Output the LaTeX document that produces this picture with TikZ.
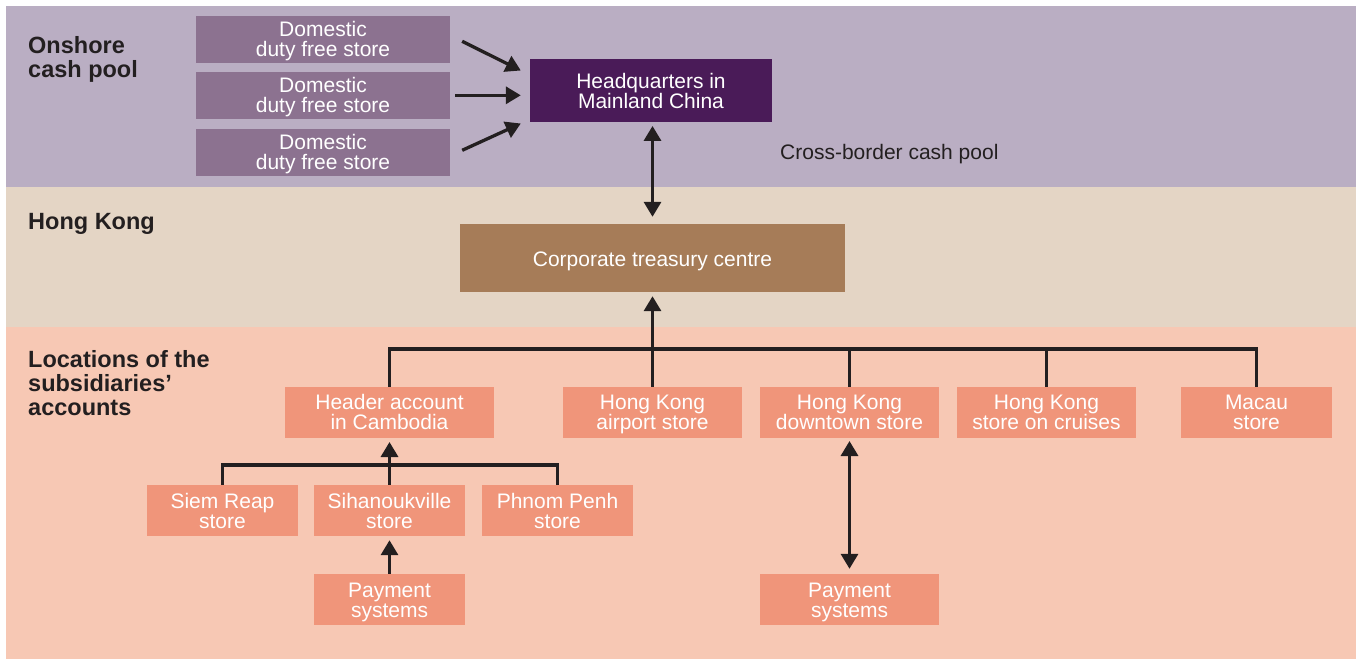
\documentclass[tikz,border=0pt]{standalone}
\usepackage{fontspec}
\setmainfont{Liberation Sans}
\usetikzlibrary{arrows.meta}
\definecolor{bandA}{HTML}{BAAEC3}
\definecolor{bandB}{HTML}{E4D5C5}
\definecolor{bandC}{HTML}{F7C8B4}
\definecolor{dstoreC}{HTML}{8C7290}
\definecolor{hqC}{HTML}{4A1B58}
\definecolor{ctcC}{HTML}{A67C58}
\definecolor{sboxC}{HTML}{F0957A}
\definecolor{inkC}{HTML}{231F20}
\newcommand\boxfont{\fontsize{21}{20}\selectfont}
\newcommand\labfont{\fontsize{23.5}{24}\selectfont\bfseries}
\newcommand\hstrut{\rule{0pt}{20pt}}
\newcommand\dstrut{\rule[-5pt]{0pt}{5pt}}
\newcommand\twolines[2]{\hstrut#1\\#2\dstrut}
\begin{document}
\begin{tikzpicture}[x=1pt,y=-1pt,
  basebox/.style={inner sep=0pt, align=center, text=white, font=\boxfont},
  dstore/.style={basebox, fill=dstoreC, minimum width=254pt, minimum height=46.5pt},
  hqbox/.style={basebox, fill=hqC, minimum width=242pt, minimum height=62.5pt},
  ctcbox/.style={basebox, fill=ctcC, minimum width=385pt, minimum height=68pt, text height=20pt, text depth=4pt},
  sbox/.style={basebox, fill=sboxC, minimum height=51pt},
  lab/.style={inner sep=0pt, anchor=base west, text=inkC, font=\labfont},
  conn/.style={draw=inkC, line width=3.3pt},
  arr/.style={conn, -{Triangle[length=15pt,width=17pt]}},
  darr/.style={conn, {Triangle[length=15pt,width=17pt]}-{Triangle[length=15pt,width=17pt]}}
]
\useasboundingbox (0,0) rectangle (1356,659);
\fill[bandA] (6,6) rectangle (1356,187);
\fill[bandB] (6,187) rectangle (1356,327);
\fill[bandC] (6,327) rectangle (1356,659);

% region labels
\node[lab] (l1) at (28,53) {Onshore};
\node[lab] (l2) at (28,77) {cash pool};
\node[lab] (l3) at (28,229) {Hong Kong};
\node[lab] (l4) at (28,367) {Locations of the};
\node[lab] (l5) at (28,391) {subsidiaries’};
\node[lab] (l6) at (28,415) {accounts};
\node[inner sep=0pt, anchor=west, text=inkC, font=\boxfont] (cb) at (780,154) {Cross-border cash pool};

% boxes
\node[dstore] (d1) at (323,39.3) {\twolines{Domestic}{duty free store}};
\node[dstore] (d2) at (323,95.3) {\twolines{Domestic}{duty free store}};
\node[dstore] (d3) at (323,152.3) {\twolines{Domestic}{duty free store}};
\node[hqbox] (hq) at (651,90.5) {\twolines{Headquarters in}{Mainland China}};
\node[ctcbox] (ctc) at (652.5,258) {Corporate treasury centre};

\node[sbox, minimum width=209pt] (hdr) at (389.5,412.3) {\twolines{Header account}{in Cambodia}};
\node[sbox, minimum width=179pt] (air) at (652.5,412.3) {\twolines{Hong Kong}{airport store}};
\node[sbox, minimum width=179pt] (down) at (849.5,412.3) {\twolines{Hong Kong}{downtown store}};
\node[sbox, minimum width=179pt] (cruise) at (1046.5,412.3) {\twolines{Hong Kong}{store on cruises}};
\node[sbox, minimum width=151pt] (macau) at (1256.5,412.3) {\twolines{Macau}{store}};

\node[sbox, minimum width=151pt] (siem) at (222.5,510.5) {\twolines{Siem Reap}{store}};
\node[sbox, minimum width=151pt] (sihan) at (389.5,510.5) {\twolines{Sihanoukville}{store}};
\node[sbox, minimum width=151pt] (phnom) at (557.5,510.5) {\twolines{Phnom Penh}{store}};
\node[sbox, minimum width=151pt] (pay1) at (389.5,599.5) {\twolines{Payment}{systems}};
\node[sbox, minimum width=179pt] (pay2) at (849.5,599.5) {\twolines{Payment}{systems}};

% connectors, onshore
\draw[arr] ([xshift=12pt,yshift=-2pt]d1.east) -- ([xshift=-9pt,yshift=20pt]hq.west);
\draw[arr] ([xshift=5pt]d2.east) -- ([xshift=-9pt]d2.east -| hq.west);
\draw[arr] ([xshift=12pt,yshift=2pt]d3.east) -- ([xshift=-9pt,yshift=-33pt]hq.west);
\draw[darr, shorten <=4pt, shorten >=7pt] (hq.south -| ctc.north) -- (ctc.north);

% subsidiaries bus
\coordinate (bus) at (0,349);
\draw[conn] (hdr.north) |- (bus -| macau.north) -- (macau.north);
\draw[conn] (down.north) -- (down.north |- bus);
\draw[conn] (cruise.north) -- (cruise.north |- bus);
\draw[arr, shorten >=4pt] (air.north) -- (ctc.south);

% Cambodia
\coordinate (sub) at (0,465);
\draw[conn] (siem.north) |- (sub -| phnom.north) -- (phnom.north);
\draw[arr, shorten >=4pt] (sihan.north) -- (hdr.south);
\draw[arr, shorten >=4pt] (pay1.north) -- (sihan.south);

% downtown payments
\draw[darr, shorten <=3pt, shorten >=5pt] (down.south) -- (pay2.north);
\end{tikzpicture}
\end{document}
